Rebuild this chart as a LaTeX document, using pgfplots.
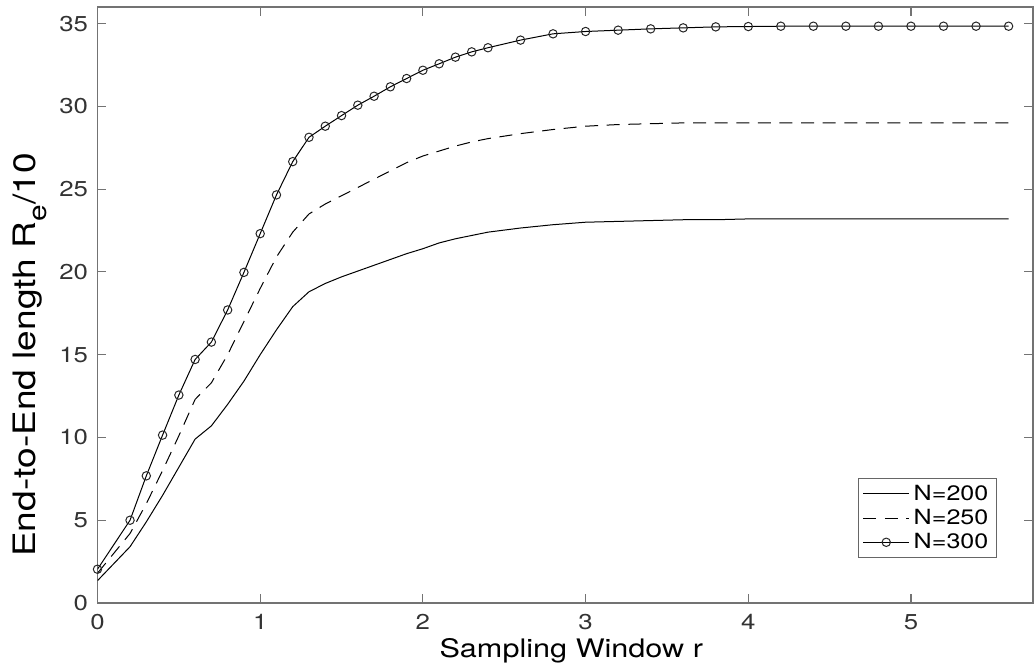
\documentclass[border=0pt]{standalone}
\usepackage{fontspec}
\setmainfont{TeX Gyre Heros}[FakeStretch=1.2]
\usepackage{pgfplots}
\pgfplotsset{compat=1.18}
\usetikzlibrary{calc}

\begin{document}
\begin{tikzpicture}
\begin{axis}[
    scale only axis,
    width=467.75bp, height=298bp,
    xmin=0, xmax=5.75, ymin=0, ymax=36,
    xtick={0,1,2,3,4,5}, ytick={0,5,10,15,20,25,30,35},
    tick align=inside, major tick length=4.5bp,
    axis line style={black!55, line width=0.7bp},
    every tick/.style={black!55, line width=0.6bp},
    /pgf/number format/assume math mode=true,
    tick label style={font=\fontsize{10.8}{12}\selectfont, text=black!80},
    yticklabel style={xshift=-1.2bp},
    xticklabel style={yshift=-2.3bp},
    xlabel={Sampling Window r},
    ylabel={End-to-End length R\raisebox{-0.7ex}{\fontsize{12.5}{12.5}\selectfont e}/10},
    xlabel style={font=\fontsize{12.8}{14}\selectfont, at={(axis description cs:0.5,-0.0906)}, anchor=base, xshift=3bp},
    ylabel style={font=\fontsize{15.5}{18}\selectfont, at={(axis description cs:-0.0668,0.416)}, anchor=base},
    legend style={at={(rel axis cs:0.9615,0.0755)}, anchor=south east,
      draw=black!60, line width=0.6bp, font=\fontsize{10.5}{12}\selectfont,
      inner xsep=2bp, inner ysep=1bp, row sep=-1bp},
    legend cell align=left,
    legend image code/.code={\draw[mark repeat=2, mark phase=2, #1] plot coordinates {(0bp,0bp) (11.5bp,0bp) (23bp,0bp)};},
  ]
  \addplot[black, line width=0.5bp, mark=none] coordinates {
    (0,1.35) (0.2,3.4) (0.3,4.9) (0.4,6.5) (0.5,8.2) (0.6,9.9) (0.7,10.7)
    (0.8,12.0) (0.9,13.4) (1.0,15.0) (1.1,16.5) (1.2,17.9) (1.3,18.8)
    (1.4,19.3) (1.5,19.7) (1.6,20.05) (1.7,20.4) (1.8,20.75) (1.9,21.1)
    (2.0,21.4) (2.1,21.75) (2.2,22.0) (2.3,22.2) (2.4,22.4) (2.6,22.65)
    (2.8,22.85) (3.0,23.0) (3.2,23.05) (3.4,23.1) (3.6,23.15) (3.8,23.15)
    (4.0,23.2) (4.2,23.2) (4.4,23.2) (4.6,23.2) (4.8,23.2) (5.0,23.2)
    (5.2,23.2) (5.4,23.2) (5.6,23.2)
  };
  \addlegendentry{N=200}
  \addplot[black, line width=0.5bp, mark=none, dash pattern=on 6.5bp off 4.3bp] coordinates {
    (0,1.8) (0.2,4.2) (0.3,6.0) (0.4,8.0) (0.5,10.1) (0.6,12.3) (0.7,13.3)
    (0.8,15.0) (0.9,17.0) (1.0,19.0) (1.1,20.9) (1.2,22.4) (1.3,23.5)
    (1.4,24.1) (1.5,24.6) (1.6,25.1) (1.7,25.6) (1.8,26.1) (1.9,26.6)
    (2.0,27.0) (2.1,27.3) (2.2,27.6) (2.3,27.85) (2.4,28.05) (2.6,28.35)
    (2.8,28.6) (3.0,28.8) (3.2,28.9) (3.4,28.95) (3.6,29.0) (3.8,29.0)
    (4.0,29.0) (4.2,29.0) (4.4,29.0) (4.6,29.0) (4.8,29.0) (5.0,29.0)
    (5.2,29.0) (5.4,29.0) (5.6,29.0)
  };
  \addlegendentry{N=250}
  \addplot[black, line width=0.5bp, mark=o, mark size=2.1bp,
           mark options={solid, line width=0.5bp, black!85}] coordinates {
    (0,2.04) (0.2,5.0) (0.3,7.68) (0.4,10.14) (0.5,12.56) (0.6,14.71)
    (0.7,15.76) (0.8,17.70) (0.9,19.97) (1.0,22.31) (1.1,24.65) (1.2,26.66)
    (1.3,28.13) (1.4,28.8) (1.5,29.44) (1.6,30.07) (1.7,30.61) (1.8,31.18)
    (1.9,31.68) (2.0,32.18) (2.1,32.57) (2.2,32.97) (2.3,33.29) (2.4,33.54)
    (2.6,34.0) (2.8,34.38) (3.0,34.52) (3.2,34.6) (3.4,34.68) (3.6,34.74)
    (3.8,34.8) (4.0,34.82) (4.2,34.84) (4.4,34.84) (4.6,34.84) (4.8,34.84)
    (5.0,34.84) (5.2,34.84) (5.4,34.84) (5.6,34.84)
  };
  \addlegendentry{N=300}
\end{axis}
\pgfresetboundingbox
\useasboundingbox ($(current axis.south west)+(-48.75bp,-32bp)$) rectangle ($(current axis.north east)+(0.5bp,3.5bp)$);
\end{tikzpicture}
\end{document}
